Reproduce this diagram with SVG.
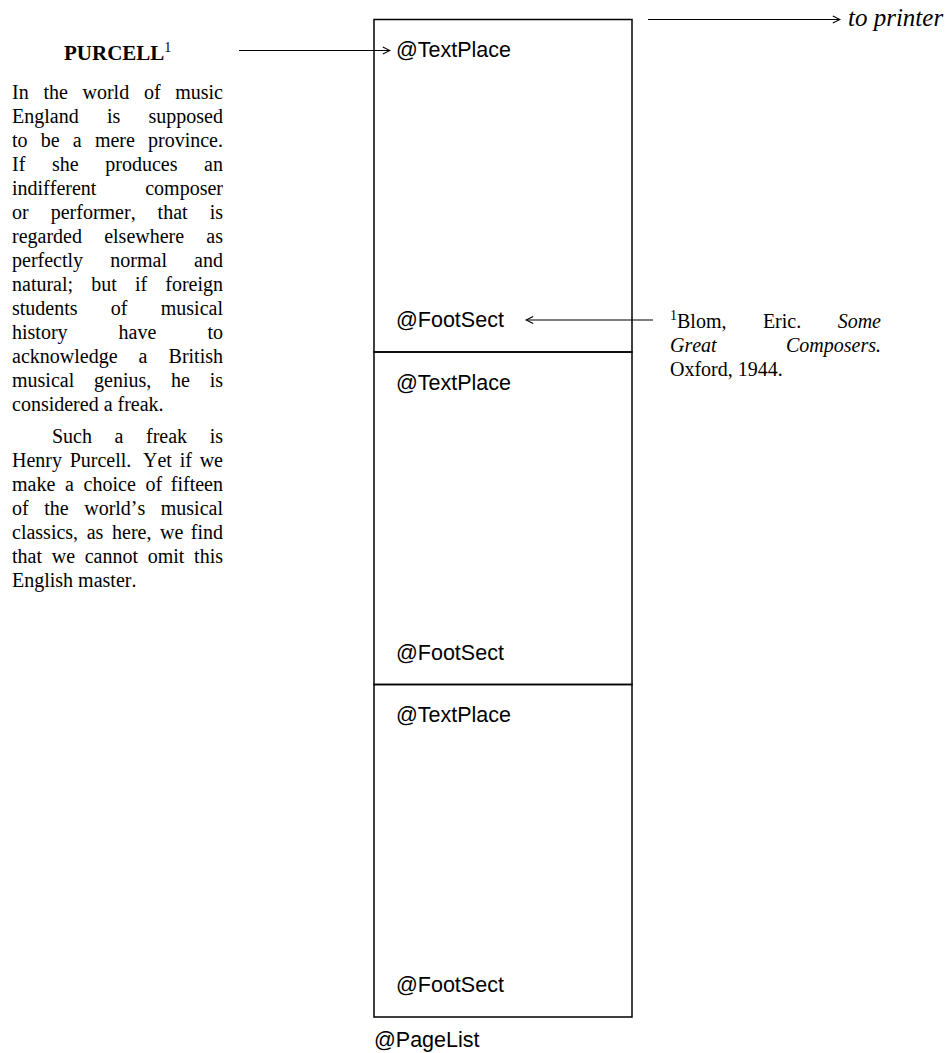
<svg xmlns="http://www.w3.org/2000/svg" width="950" height="1053" viewBox="0 0 950 1053">
  <style>
    .body { font-family: "Liberation Serif", "Times New Roman", serif; font-size: 20px; fill: #000; font-kerning: none; }
    .ital { font-style: italic; }
    .head { font-family: "Liberation Serif", "Times New Roman", serif; font-size: 21px; font-weight: bold; fill: #000; }
    .sup { font-family: "Liberation Serif", "Times New Roman", serif; font-size: 14px; font-weight: normal; font-style: normal; fill: #000; }
    .sans { font-family: "Liberation Sans", Arial, sans-serif; font-size: 21.5px; fill: #000; }
    .end { text-anchor: end; }
    .page { fill: none; stroke: #000; stroke-width: 1.5; }
    .wire { fill: none; stroke: #000; stroke-width: 1.2; marker-end: url(#chevron); }
  </style>
  <defs>
    <marker id="chevron" viewBox="0 0 10 10" refX="9" refY="5" markerWidth="9" markerHeight="9" markerUnits="userSpaceOnUse" orient="auto">
      <path d="M1,1 L9,5 L1,9" fill="none" stroke="#000" stroke-width="1.2"/>
    </marker>
  </defs>

  <rect width="950" height="1053" fill="#fff"/>

  <!-- source document: heading and justified column -->
  <g id="source-text">
    <text class="head" x="64" y="60">PURCELL<tspan class="sup" dy="-8">1</tspan></text>
    <text class="body" y="99"><tspan x="12">In</tspan><tspan x="43.4">the</tspan><tspan x="82.5">world</tspan><tspan x="143.9">of</tspan><tspan x="223" class="end">music</tspan></text>
    <text class="body" y="123"><tspan x="12">England</tspan><tspan x="106.9">is</tspan><tspan x="223" class="end">supposed</tspan></text>
    <text class="body" y="147"><tspan x="12">to</tspan><tspan x="40.7">be</tspan><tspan x="72.8">a</tspan><tspan x="94.9">mere</tspan><tspan x="223" class="end">province.</tspan></text>
    <text class="body" y="171"><tspan x="12">If</tspan><tspan x="52">she</tspan><tspan x="105.3">produces</tspan><tspan x="223" class="end">an</tspan></text>
    <text class="body" y="195"><tspan x="12">indifferent</tspan><tspan x="223" class="end">composer</tspan></text>
    <text class="body" y="219"><tspan x="12">or</tspan><tspan x="50.7">performer,</tspan><tspan x="157.6">that</tspan><tspan x="223" class="end">is</tspan></text>
    <text class="body" y="243"><tspan x="12">regarded</tspan><tspan x="104.2">elsewhere</tspan><tspan x="223" class="end">as</tspan></text>
    <text class="body" y="267"><tspan x="12">perfectly</tspan><tspan x="110.3">normal</tspan><tspan x="223" class="end">and</tspan></text>
    <text class="body" y="291"><tspan x="12">natural;</tspan><tspan x="91.2">but</tspan><tspan x="134.9">if</tspan><tspan x="223" class="end">foreign</tspan></text>
    <text class="body" y="315"><tspan x="12">students</tspan><tspan x="110.8">of</tspan><tspan x="223" class="end">musical</tspan></text>
    <text class="body" y="339"><tspan x="12">history</tspan><tspan x="118.6">have</tspan><tspan x="223" class="end">to</tspan></text>
    <text class="body" y="363"><tspan x="12">acknowledge</tspan><tspan x="138.6">a</tspan><tspan x="223" class="end">British</tspan></text>
    <text class="body" y="387"><tspan x="12">musical</tspan><tspan x="94">genius,</tspan><tspan x="171">he</tspan><tspan x="223" class="end">is</tspan></text>
    <text class="body" x="12" y="411">considered a freak.</text>
    <text class="body" y="443"><tspan x="52">Such</tspan><tspan x="114.6">a</tspan><tspan x="146">freak</tspan><tspan x="223" class="end">is</tspan></text>
    <text class="body" y="467"><tspan x="12">Henry</tspan><tspan x="69.7">Purcell.</tspan><tspan x="143">Yet</tspan><tspan x="179.7">if</tspan><tspan x="223" class="end">we</tspan></text>
    <text class="body" y="491"><tspan x="12">make</tspan><tspan x="65">a</tspan><tspan x="83.6">choice</tspan><tspan x="145.5">of</tspan><tspan x="223" class="end">fifteen</tspan></text>
    <text class="body" y="515"><tspan x="12">of</tspan><tspan x="44.2">the</tspan><tspan x="84.2">world’s</tspan><tspan x="223" class="end">musical</tspan></text>
    <text class="body" y="539"><tspan x="12">classics,</tspan><tspan x="86.7">as</tspan><tspan x="112">here,</tspan><tspan x="160">we</tspan><tspan x="223" class="end">find</tspan></text>
    <text class="body" y="563"><tspan x="12">that</tspan><tspan x="51.7">we</tspan><tspan x="84.7">cannot</tspan><tspan x="147.7">omit</tspan><tspan x="223" class="end">this</tspan></text>
    <text class="body" x="12" y="587">English master.</text>
  </g>

  <!-- page list: three pages, each with a text place and a footnote section -->
  <g id="page-1">
    <rect class="page" x="374" y="19.5" width="258" height="332.5"/>
    <text class="sans" x="396" y="57">@TextPlace</text>
    <text class="sans" x="396" y="327">@FootSect</text>
  </g>
  <g id="page-2">
    <rect class="page" x="374" y="352" width="258" height="332.5"/>
    <text class="sans" x="396" y="389.5">@TextPlace</text>
    <text class="sans" x="396" y="659.5">@FootSect</text>
  </g>
  <g id="page-3">
    <rect class="page" x="374" y="684.5" width="258" height="332.5"/>
    <text class="sans" x="396" y="722">@TextPlace</text>
    <text class="sans" x="396" y="992">@FootSect</text>
  </g>
  <g id="page-list-label">
    <text class="sans" x="374" y="1047">@PageList</text>
  </g>

  <!-- footnote text -->
  <g id="footnote">
    <text class="body" y="328"><tspan class="sup" x="670" dy="-8">1</tspan><tspan x="677" dy="8">Blom,</tspan><tspan x="762.9">Eric.</tspan><tspan x="881" class="end ital">Some</tspan></text>
    <text class="body ital" y="352"><tspan x="670">Great</tspan><tspan x="881" class="end">Composers.</tspan></text>
    <text class="body" x="670" y="376">Oxford, 1944.</text>
  </g>

  <!-- output label -->
  <g id="printer">
    <text class="body ital" x="848" y="25.5" style="font-size:25px">to printer</text>
  </g>

  <!-- connectors -->
  <g id="connectors">
    <path class="wire" d="M239,50.5 H390"/>
    <path class="wire" d="M653,320 H526"/>
    <path class="wire" d="M648,19.5 H840"/>
  </g>
</svg>
